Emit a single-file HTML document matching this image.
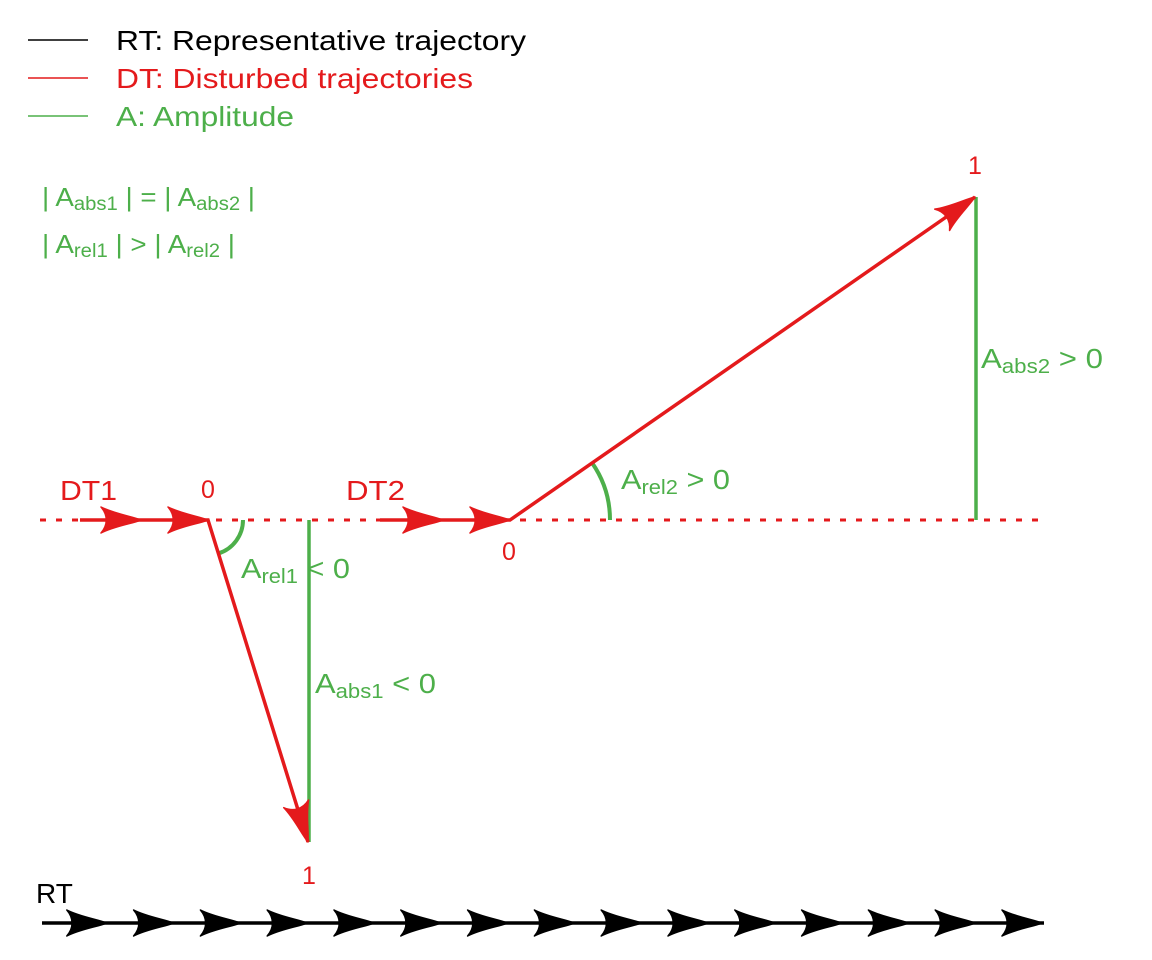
<!DOCTYPE html>
<html><head><meta charset="utf-8"><style>
html,body{margin:0;padding:0;background:#fff;}
svg{display:block;font-family:"Liberation Sans",sans-serif;}
</style></head><body>
<svg id="chart" width="1152" height="960" viewBox="0 0 1152 960" xmlns="http://www.w3.org/2000/svg">
<g font-size="28">
 <line x1="28" y1="40" x2="88" y2="40" stroke="#000" stroke-width="1.5"/>
 <text x="116" y="50" fill="#000" textLength="410" lengthAdjust="spacingAndGlyphs">RT: Representative trajectory</text>
 <line x1="28" y1="78" x2="88" y2="78" stroke="#e41a1c" stroke-width="1.5"/>
 <text x="116" y="88" fill="#e41a1c" textLength="357" lengthAdjust="spacingAndGlyphs">DT: Disturbed trajectories</text>
 <line x1="28" y1="116" x2="88" y2="116" stroke="#4daf4a" stroke-width="1.5"/>
 <text x="116" y="126" fill="#4daf4a" textLength="178" lengthAdjust="spacingAndGlyphs">A: Amplitude</text>
</g>
<g fill="#4daf4a" font-size="26">
 <text x="42" y="206" textLength="213" lengthAdjust="spacingAndGlyphs">| A<tspan font-size="19" dy="4">abs1</tspan><tspan dy="-4"> | = | A</tspan><tspan font-size="19" dy="4">abs2</tspan><tspan dy="-4"> |</tspan></text>
 <text x="42" y="253" textLength="193" lengthAdjust="spacingAndGlyphs">| A<tspan font-size="19" dy="4">rel1</tspan><tspan dy="-4"> | &gt; | A</tspan><tspan font-size="19" dy="4">rel2</tspan><tspan dy="-4"> |</tspan></text>
</g>
<g id="marks"></g>
<g font-size="28">
 <text x="60" y="500" fill="#e41a1c" textLength="57" lengthAdjust="spacingAndGlyphs">DT1</text>
 <text x="346" y="500" fill="#e41a1c" textLength="59" lengthAdjust="spacingAndGlyphs">DT2</text>
 <text x="208" y="498" fill="#e41a1c" font-size="25" text-anchor="middle">0</text>
 <text x="309" y="884" fill="#e41a1c" font-size="25" text-anchor="middle">1</text>
 <text x="509" y="560" fill="#e41a1c" font-size="25" text-anchor="middle">0</text>
 <text x="975" y="174" fill="#e41a1c" font-size="25" text-anchor="middle">1</text>
 <text x="36" y="903" fill="#000">RT</text>
 <g fill="#4daf4a">
  <text x="241" y="578" textLength="109" lengthAdjust="spacingAndGlyphs">A<tspan font-size="20" dy="5">rel1</tspan><tspan dy="-5"> &lt; 0</tspan></text>
  <text x="315" y="693" textLength="121" lengthAdjust="spacingAndGlyphs">A<tspan font-size="20" dy="5">abs1</tspan><tspan dy="-5"> &lt; 0</tspan></text>
  <text x="621" y="489" textLength="109" lengthAdjust="spacingAndGlyphs">A<tspan font-size="20" dy="5">rel2</tspan><tspan dy="-5"> &gt; 0</tspan></text>
  <text x="981" y="368" textLength="122" lengthAdjust="spacingAndGlyphs">A<tspan font-size="20" dy="5">abs2</tspan><tspan dy="-5"> &gt; 0</tspan></text>
 </g>
</g>
</svg>
<script>
const baselineY = 520;
const rtY = 923;
const rtStart = [42];
const rtEnd = [1044];
const rtArrowCount = [15];
const dt1Path = [[80,520],[208,520],[308,842]];
const dt1Arrows = [141,208];
const dt2Path = [[380,520],[510,520],[975,197]];
const dt2Arrows = [443,510];
const arcRadii = [35,100];

const NS='http://www.w3.org/2000/svg';
const g=document.getElementById('marks');
function mk(t,a){const e=document.createElementNS(NS,t);for(const k in a)e.setAttribute(k,a[k]);g.appendChild(e);return e;}
function arrow(x,y,ang,col,name){
  const e=mk('path',{d:'M0,0 C-10,-4 -26,-6 -40,-13 C-33,-5 -33,5 -40,13 C-26,6 -10,4 0,0 Z',fill:col,stroke:col,'stroke-width':1.5,'stroke-linejoin':'round',transform:`translate(${x},${y}) rotate(${ang})`});
  
  
}
let bl=mk('line',{x1:40,y1:baselineY,x2:1043,y2:baselineY,stroke:'#e41a1c','stroke-width':3,'stroke-dasharray':'6,10'});


[[dt1Path[2]],[dt2Path[2]]].forEach((p,i)=>{
  const v=mk('line',{x1:p[0][0]+1,y1:baselineY,x2:p[0][0]+1,y2:p[0][1],stroke:'#4daf4a','stroke-width':3.5});
  
  
});
[dt1Path,dt2Path].forEach((p,i)=>{
  const [cx,cy]=p[1],[ex,ey]=p[2],r=arcRadii[i];
  const a=Math.atan2(ey-cy,ex-cx);
  const sx=cx+r,sy=cy,tx=cx+r*Math.cos(a),ty=cy+r*Math.sin(a);
  const sweep=a>0?1:0;
  const arc=mk('path',{d:`M${sx},${sy} A${r},${r} 0 0 ${sweep} ${tx},${ty}`,fill:'none',stroke:'#4daf4a','stroke-width':4});
  
  
});
[dt1Path,dt2Path].forEach((p,i)=>{
  const pl=mk('polyline',{points:p.map(q=>q.join(',')).join(' '),fill:'none',stroke:'#e41a1c','stroke-width':3.5});
  
  
  const arrs=i===0?dt1Arrows:dt2Arrows;
  arrs.forEach(x=>arrow(x,baselineY,0,'#e41a1c','dt'+(i+1)+'-arrow'));
  const [cx,cy]=p[1],[ex,ey]=p[2];
  arrow(ex,ey,Math.atan2(ey-cy,ex-cx)*180/Math.PI,'#e41a1c','dt'+(i+1)+'-end-arrow');
});
const rl=mk('line',{x1:rtStart[0],y1:rtY,x2:rtEnd[0],y2:rtY,stroke:'#000','stroke-width':3.5});


const step=(rtEnd[0]-rtStart[0])/rtArrowCount[0];
for(let k=1;k<=rtArrowCount[0];k++)arrow(rtStart[0]+k*step-2,rtY,0,'#000','rt-arrow');
</script>
</body></html>
